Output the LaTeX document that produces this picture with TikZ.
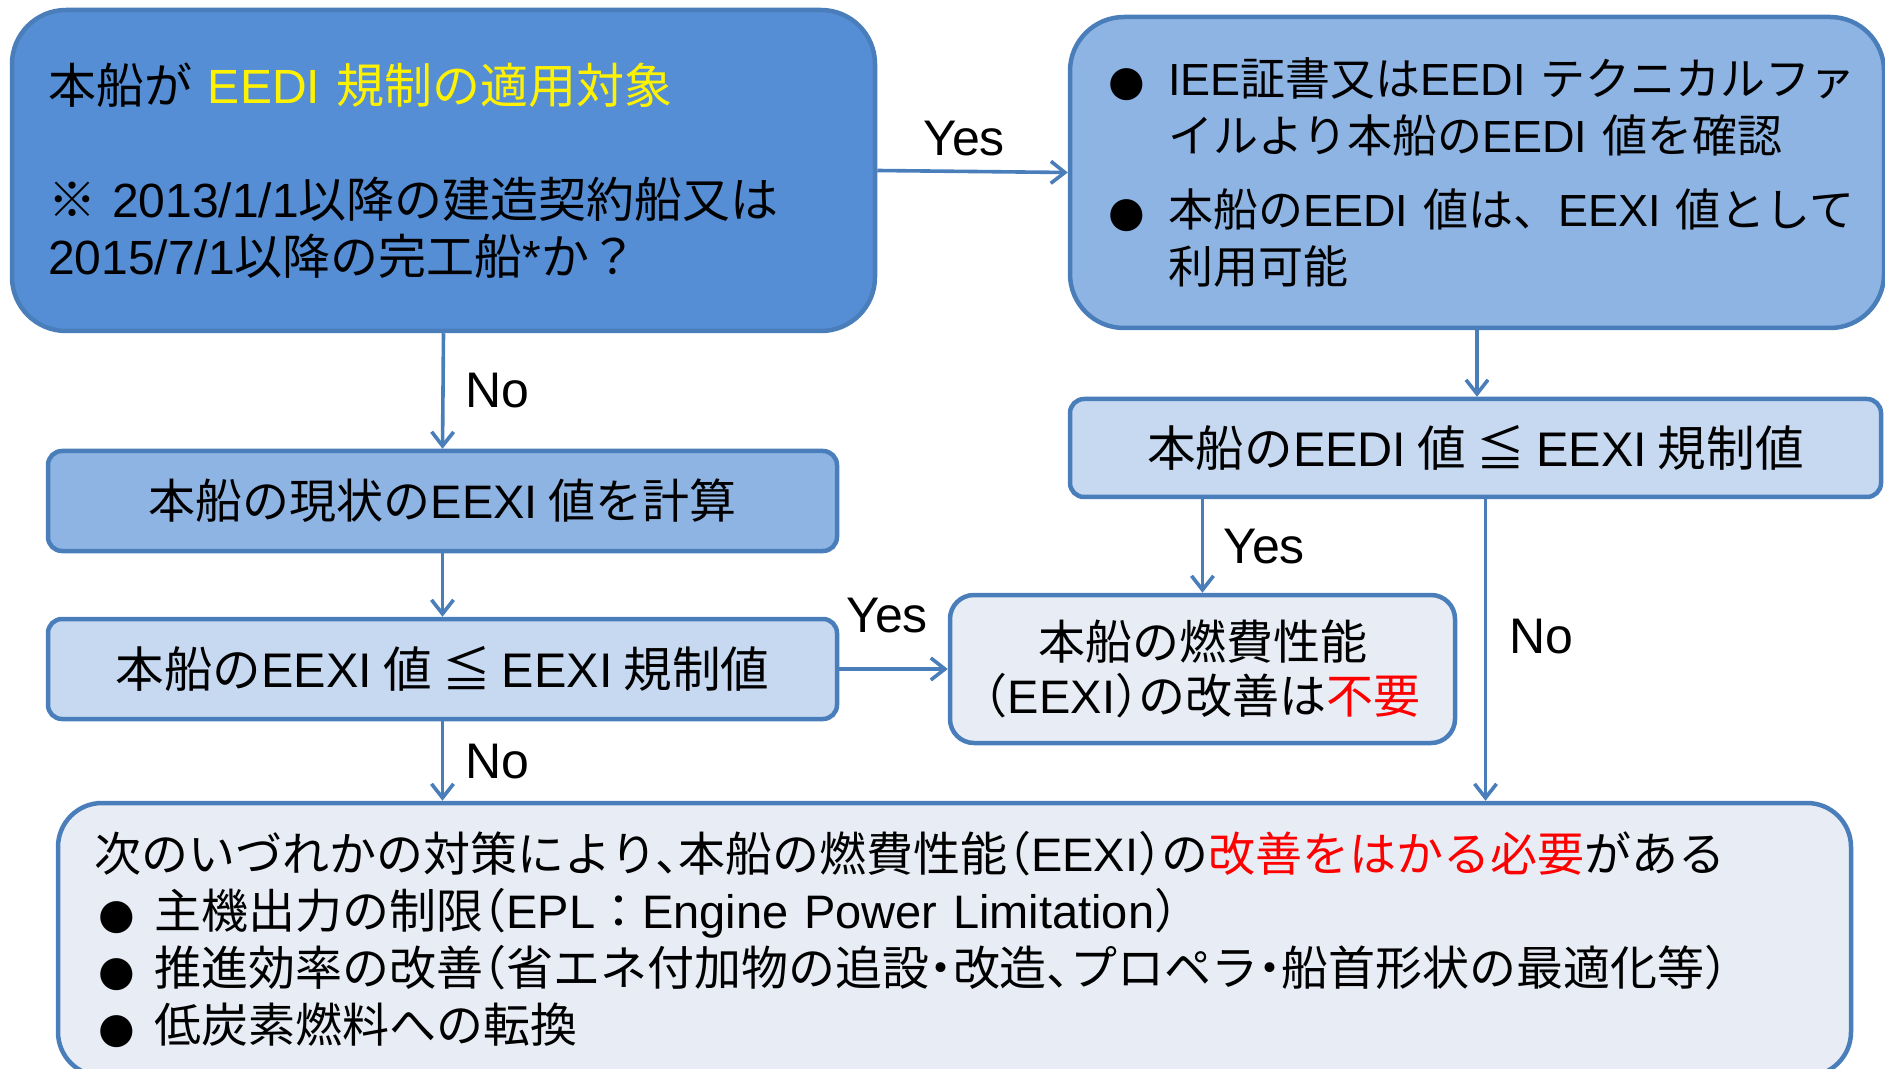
\documentclass[tikz,border=0pt]{standalone}
\usepackage{fontspec}
\setmainfont{Noto Sans CJK JP}[RawFeature=+halt]
\newfontfamily\jpfull{Noto Sans CJK JP}
\newfontfamily\latfont{Liberation Sans}
\newfontfamily\dvfont{DejaVu Sans}
\usetikzlibrary{arrows.meta}
\definecolor{bord}{HTML}{4A7EBB}
\definecolor{fillA}{HTML}{558ED5}
\definecolor{fillB}{HTML}{8EB4E3}
\definecolor{fillD}{HTML}{C6D9F1}
\definecolor{fillF}{HTML}{E8EDF5}
\newcommand{\EN}[1]{{\latfont #1}}
\newcommand{\FW}[1]{{\jpfull #1}}
\newcommand{\bulchar}{{\dvfont\fontsize{21}{21}\selectfont ●}}
\newcommand{\gb}{\makebox[30pt][l]{\hspace{2pt}\bulchar}}
\newcommand{\bb}{\makebox[30pt][l]{\bulchar}}
\begin{document}
\begin{tikzpicture}[x=0.5pt,y=-0.5pt,
  box/.style={draw=bord, line width=2.25pt, inner sep=0pt, align=center,
    font=\fontsize{23.5}{28.5}\selectfont},
  arr/.style={draw=bord, line width=1.8pt, -{Straight Barb[length=7pt,width=11pt]}},
  lab/.style={font=\latfont\fontsize{25}{30}\selectfont, inner sep=0pt}]
\useasboundingbox (0,0) rectangle (1885,1069);

% boxes
\node[box, fill=fillA, rounded corners=27pt, minimum width=431.5pt, minimum height=160.5pt,
  text width=395.5pt, align=left, font=\fontsize{24}{28.5}\selectfont] (A) at (443.5,170.5)
  {本船が \textcolor{yellow}{\EN{EEDI}~規制の適用対象}\\[28.5pt]
   ※~\EN{2013/1/1}以降の建造契約船又は\\
   \EN{2015/7/1}以降の完工船\EN{*}か？};

\node[box, fill=fillB, rounded corners=27pt, minimum width=407pt, minimum height=155.5pt,
  text width=369pt, align=left, font=\fontsize{22.5}{28.5}\selectfont] (B) at (1477,172.5)
  {\bb{}\EN{IEE}証書又は\EN{EEDI}~テクニカルファ\\
   \hspace*{30pt}イルより本船の\EN{EEDI}~値を確認\\[8.5pt]
   \bb{}本船の\EN{EEDI}~値は\FW{、}\EN{EEXI}~値として\\
   \hspace*{30pt}利用可能};

\node[box, fill=fillB, rounded corners=7pt, minimum width=394.5pt, minimum height=50pt]
  (C) at (442.5,501) {本船の現状の\EN{EEXI}~値を計算};

\node[box, fill=fillD, rounded corners=7pt, minimum width=394.5pt, minimum height=50pt,
  font=\fontsize{24.3}{28.5}\selectfont]
  (D) at (442.5,669) {本船の\EN{EEXI}~値~≦~\EN{EEXI}~規制値};

\node[box, fill=fillD, rounded corners=7pt, minimum width=405.5pt, minimum height=49pt,
  font=\fontsize{24.3}{28.5}\selectfont]
  (E) at (1475.5,448) {本船の\EN{EEDI}~値~≦~\EN{EEXI}~規制値};

\node[box, fill=fillF, rounded corners=12pt, minimum width=252.5pt, minimum height=74pt,
  font=\fontsize{23.5}{27}\selectfont]
  (F) at (1202.5,669) {本船の燃費性能\\（\EN{EEXI}）の改善は\textcolor{red}{不要}};

\node[box, fill=fillF, rounded corners=22pt, minimum width=896.5pt, minimum height=136.5pt,
  text width=860.5pt, align=left] (G) at (954.5,939.5)
  {次のいづれかの対策により、本船の燃費性能（\EN{EEXI}）の\textcolor{red}{改善をはかる必要}がある\\
   \gb{}主機出力の制限（\EN{EPL}\FW{：}\EN{Engine~Power~Limitation}）\\
   \gb{}推進効率の改善（省エネ付加物の追設・改造、プロペラ・船首形状の最適化等）\\
   \gb{}低炭素燃料への転換};

% connectors
\draw[arr] (A.east) -- (B.west);
\draw[arr] (A.south) -- (C.north);
\draw[arr] (C.south) -- (D.north);
\draw[arr] (D.south) -- (D.south |- G.north);
\draw[arr] (D.east) -- (F.west);
\draw[arr] (B.south) -- (B.south |- E.north);
\draw[arr] (E.south -| F.north) -- (F.north);
\coordinate (eno) at ([xshift=5pt]E.south);
\draw[arr] (eno) -- (eno |- G.north);

% labels
\node[lab] (y1) at (964,139) {Yes};
\node[lab] (n1) at (497,391) {No};
\node[lab] (y2) at (887,616) {Yes};
\node[lab] (n2) at (497,762) {No};
\node[lab] (y3) at (1264,547) {Yes};
\node[lab] (n3) at (1541,637) {No};
\end{tikzpicture}
\end{document}
